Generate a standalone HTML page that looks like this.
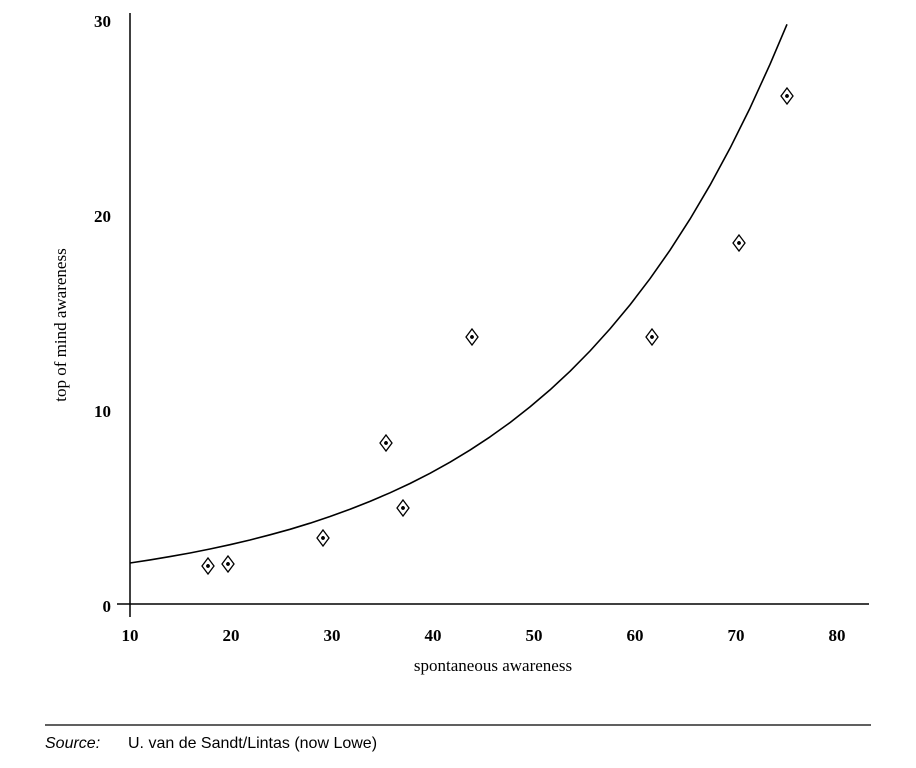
<!DOCTYPE html>
<html><head><style>body{margin:0;background:#fff}</style></head><body>
<svg width="916" height="763" xmlns="http://www.w3.org/2000/svg">
<g stroke="#000" stroke-width="1.5" fill="none">
<line x1="130" y1="13" x2="130" y2="617"/>
<line x1="117" y1="604" x2="869" y2="604"/>
<line x1="45" y1="725" x2="871" y2="725" stroke-width="1.2"/>
</g>
<polyline fill="none" stroke="#000" stroke-width="1.6" stroke-linejoin="round" points="130,563.0 150,559.9 170,556.6 190,553.0 210,549.0 230,544.7 250,540.0 270,534.8 290,529.3 310,523.2 330,516.5 350,509.3 370,501.4 390,492.8 410,483.5 430,473.3 450,462.2 470,450.1 490,436.9 510,422.6 530,406.9 550,389.9 570,371.3 590,351.0 610,328.9 630,304.9 650,278.7 670,250.2 690,219.1 710,185.2 730,148.3 750,108.1 770,64.3 787,24.3"/>
<g font-family="Liberation Serif, serif" font-weight="bold" font-size="17" text-anchor="middle">
<text x="130" y="641">10</text><text x="231" y="641">20</text><text x="332" y="641">30</text><text x="433" y="641">40</text><text x="534" y="641">50</text><text x="635" y="641">60</text><text x="736" y="641">70</text><text x="837" y="641">80</text>
<g text-anchor="end"><text x="111" y="612">0</text><text x="111" y="417">10</text><text x="111" y="222">20</text><text x="111" y="27">30</text></g>
</g>
<g font-family="Liberation Serif, serif" font-size="17" text-anchor="middle">
<text x="493" y="671">spontaneous awareness</text>
<text transform="translate(66,325) rotate(-90)">top of mind awareness</text>
</g>
<g font-family="Liberation Sans, sans-serif" font-size="16">
<text x="45" y="748" font-style="italic">Source:</text>
<text x="128" y="748">U. van de Sandt/Lintas (now Lowe)</text>
</g>
<g fill="#fff" stroke="#000" stroke-width="1.3">
<g transform="translate(208,566)"><path d="M0,-8L6,0L0,8L-6,0Z"/><circle r="1.3" fill="#000"/></g>
<g transform="translate(228,564)"><path d="M0,-8L6,0L0,8L-6,0Z"/><circle r="1.3" fill="#000"/></g>
<g transform="translate(323,538)"><path d="M0,-8L6,0L0,8L-6,0Z"/><circle r="1.3" fill="#000"/></g>
<g transform="translate(386,443)"><path d="M0,-8L6,0L0,8L-6,0Z"/><circle r="1.3" fill="#000"/></g>
<g transform="translate(403,508)"><path d="M0,-8L6,0L0,8L-6,0Z"/><circle r="1.3" fill="#000"/></g>
<g transform="translate(472,337)"><path d="M0,-8L6,0L0,8L-6,0Z"/><circle r="1.3" fill="#000"/></g>
<g transform="translate(652,337)"><path d="M0,-8L6,0L0,8L-6,0Z"/><circle r="1.3" fill="#000"/></g>
<g transform="translate(739,243)"><path d="M0,-8L6,0L0,8L-6,0Z"/><circle r="1.3" fill="#000"/></g>
<g transform="translate(787,96)"><path d="M0,-8L6,0L0,8L-6,0Z"/><circle r="1.3" fill="#000"/></g>
</g>
</svg>
</body></html>
